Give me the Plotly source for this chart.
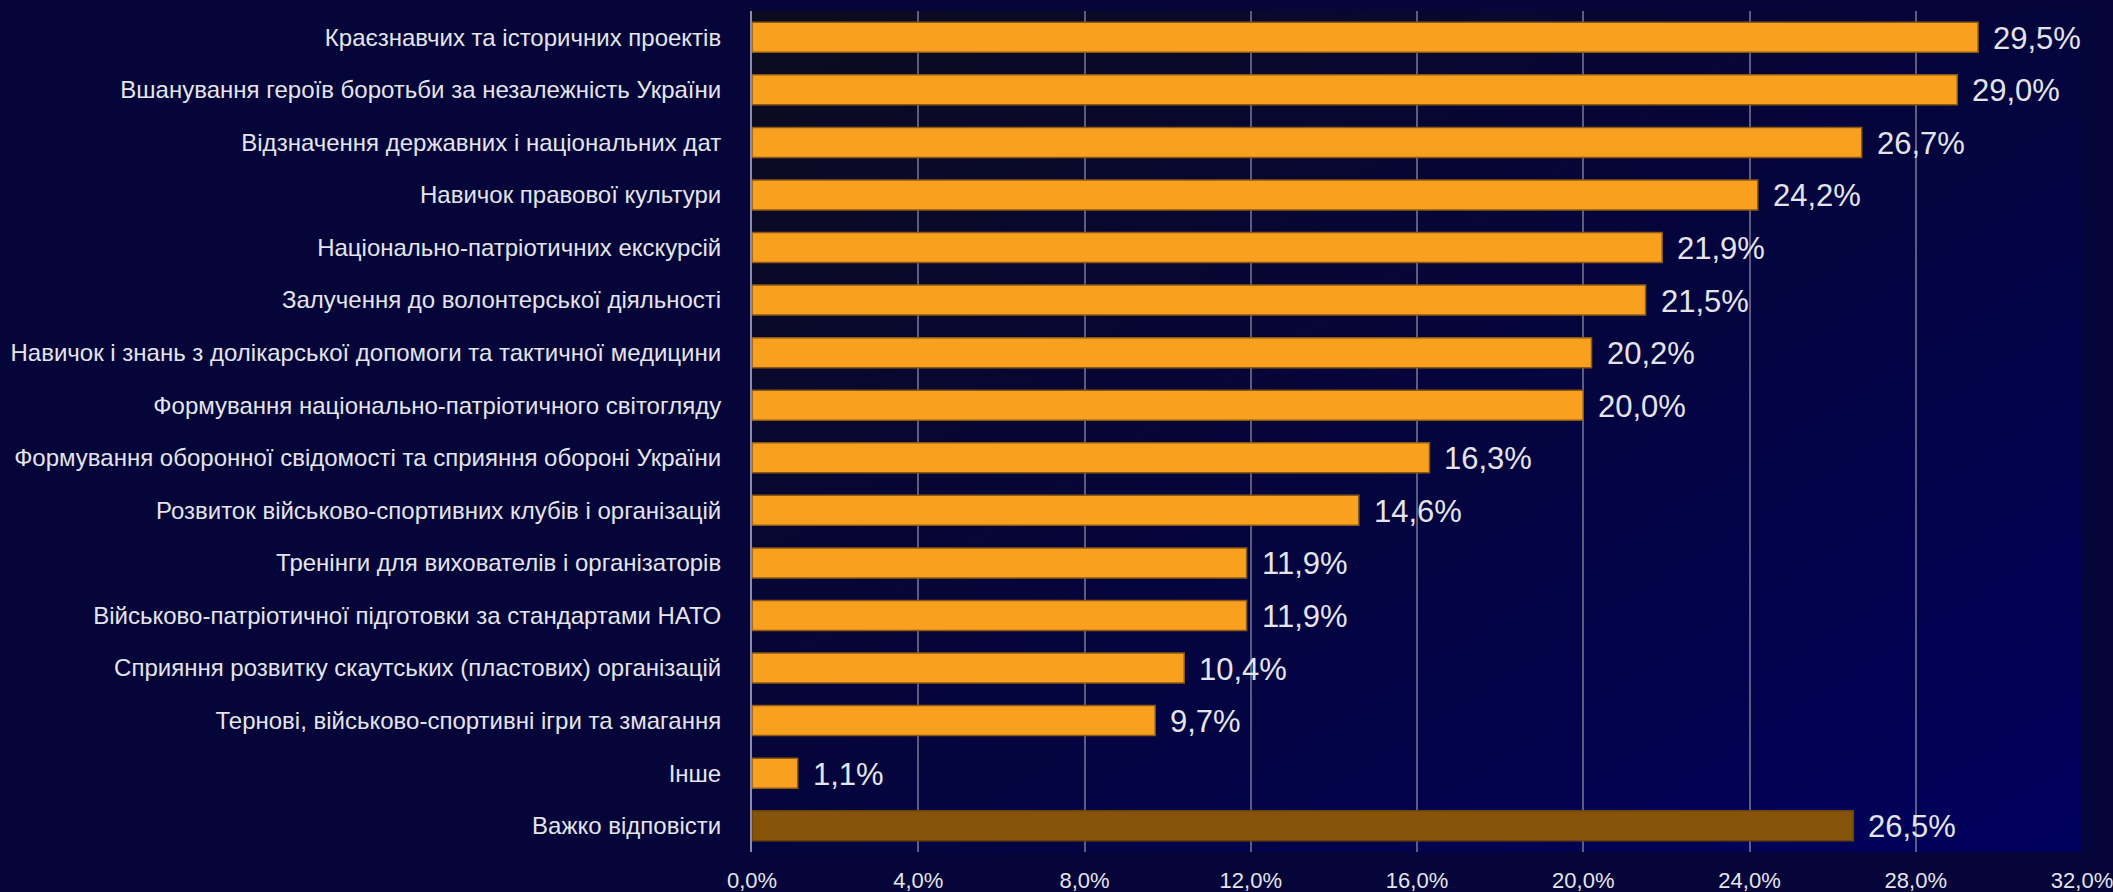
import base64
import plotly.graph_objects as go

# Survey answers (share of respondents, %), top to bottom as displayed
categories = [
    "Краєзнавчих та історичних проектів",
    "Вшанування героїв боротьби за незалежність України",
    "Відзначення державних і національних дат",
    "Навичок правової культури",
    "Національно-патріотичних екскурсій",
    "Залучення до волонтерської діяльності",
    "Навичок і знань з долікарської допомоги та тактичної медицини",
    "Формування національно-патріотичного світогляду",
    "Формування оборонної свідомості та сприяння обороні України",
    "Розвиток військово-спортивних клубів і організацій",
    "Тренінги для вихователів і організаторів",
    "Військово-патріотичної підготовки за стандартами НАТО",
    "Сприяння розвитку скаутських (пластових) організацій",
    "Тернові, військово-спортивні ігри та змагання",
    "Інше",
    "Важко відповісти",
]
values = [29.5, 29.0, 26.7, 24.2, 21.9, 21.5, 20.2, 20.0, 16.3, 14.6,
          11.9, 11.9, 10.4, 9.7, 1.1, 26.5]
value_labels = ["29,5%", "29,0%", "26,7%", "24,2%", "21,9%", "21,5%", "20,2%",
                "20,0%", "16,3%", "14,6%", "11,9%", "11,9%", "10,4%", "9,7%",
                "1,1%", "26,5%"]
x_ticks = [0, 4, 8, 12, 16, 20, 24, 28, 32]
x_tick_labels = ["0,0%", "4,0%", "8,0%", "12,0%", "16,0%", "20,0%",
                 "24,0%", "28,0%", "32,0%"]

bar_colors = ["#F9A11F"] * (len(values) - 1) + ["#865408"]
line_colors = ["#8A5A14"] * (len(values) - 1) + ["#6A4206"]

FONT = "Liberation Sans, Arial, sans-serif"
TEXT = "#E4E4EC"

# Diagonal dark-to-navy backdrop as an inline SVG
svg = (
    '<svg xmlns="http://www.w3.org/2000/svg" width="2113" height="892" '
    'preserveAspectRatio="none">'
    '<defs><linearGradient id="g" x1="0" y1="0" x2="1" y2="1">'
    '<stop offset="0" stop-color="#0C0B1E"/>'
    '<stop offset="0.45" stop-color="#05053A"/>'
    '<stop offset="1" stop-color="#00005E"/>'
    '</linearGradient></defs>'
    '<rect width="2113" height="892" fill="url(#g)"/></svg>'
)
bg_uri = "data:image/svg+xml;base64," + base64.b64encode(svg.encode()).decode()

fig = go.Figure(
    go.Bar(
        x=values,
        y=categories,
        orientation="h",
        marker=dict(color=bar_colors, line=dict(color=line_colors, width=1.5)),
        hoverinfo="skip",
    )
)

for cat, val, lab in zip(categories, values, value_labels):
    fig.add_annotation(
        x=val, y=cat, text=lab, showarrow=False,
        xanchor="left", yanchor="middle", xshift=13, yshift=-1,
        font=dict(family=FONT, size=31, color=TEXT),
    )

fig.update_layout(
    width=2113,
    height=892,
    margin=dict(l=752, r=31, t=11, b=40),
    paper_bgcolor="#05053A",
    plot_bgcolor="rgba(0,0,0,0)",
    bargap=0.43,
    showlegend=False,
    images=[dict(
        source=bg_uri, xref="paper", yref="paper", x=0, y=1,
        sizex=1, sizey=1, sizing="stretch", layer="below",
        xanchor="left", yanchor="top",
    )],
    xaxis=dict(
        range=[0, 32],
        tickvals=x_ticks,
        ticktext=x_tick_labels,
        automargin=False,
        ticklabeloverflow="allow",
        showgrid=True,
        gridcolor="#5C5C80",
        gridwidth=1.5,
        zeroline=False,
        showline=False,
        ticks="outside",
        ticklen=9,
        tickcolor="rgba(0,0,0,0)",
        tickfont=dict(family=FONT, size=22, color=TEXT),
    ),
    yaxis=dict(
        categoryorder="array",
        categoryarray=categories[::-1],
        autorange=False,
        range=[-0.5, len(categories) - 0.5],
        automargin=False,
        showgrid=False,
        showline=True,
        linecolor="#8C8CA8",
        linewidth=2,
        ticks="outside",
        ticklen=24,
        tickcolor="rgba(0,0,0,0)",
        tickfont=dict(family=FONT, size=24, color=TEXT),
    ),
)

fig.write_html("out.html")
